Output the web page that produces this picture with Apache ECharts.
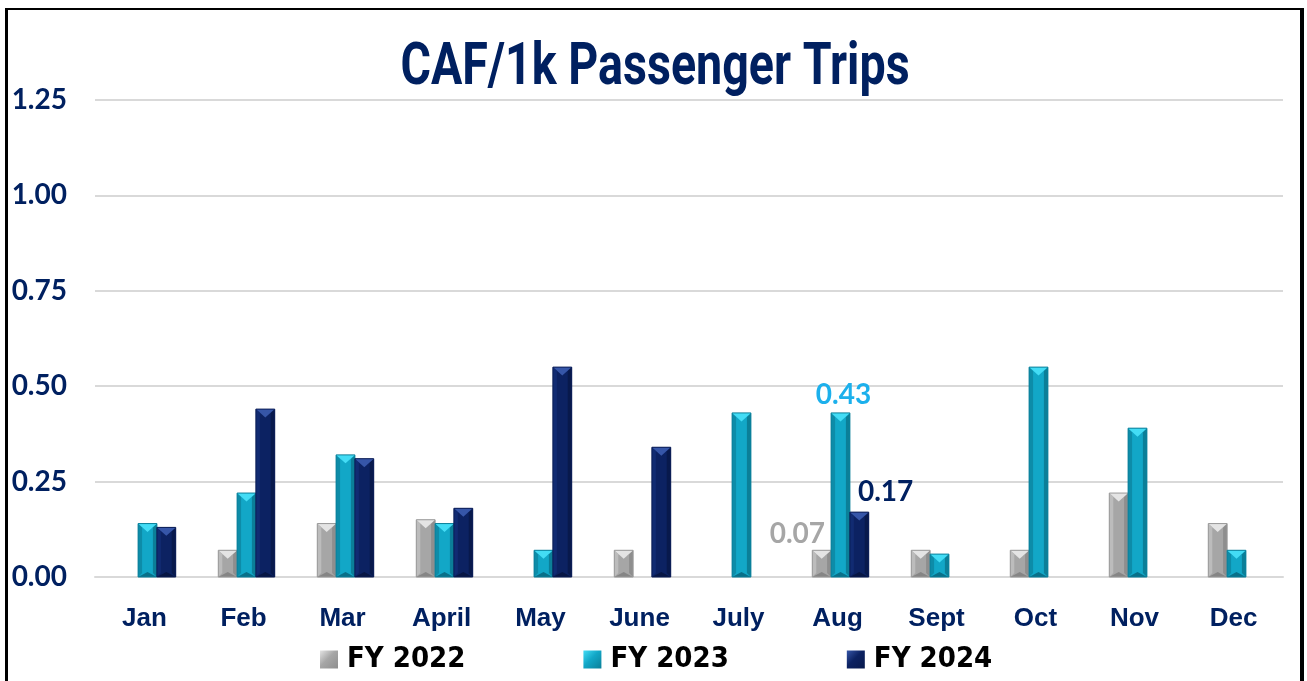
<!DOCTYPE html>
<html>
<head>
<meta charset="utf-8">
<script src="https://cdn.jsdelivr.net/npm/echarts@6/dist/echarts.min.js"></script>
<style>
  html, body { margin: 0; padding: 0; background: #fff; }
  #main { width: 1307px; height: 681px; }
  /* black frame round the chart area */
  #frame {
    position: absolute; left: 5px; top: 8px; width: 1292px; height: 700px;
    border-left: 3px solid #000; border-top: 2px solid #000; border-right: 4px solid #000;
    pointer-events: none;
  }
</style>
</head>
<body>
<div id="main"></div>
<div id="frame"></div>
<script>
const months = ['Jan', 'Feb', 'Mar', 'April', 'May', 'June', 'July', 'Aug', 'Sept', 'Oct', 'Nov', 'Dec'];
const fy2022 = [null, 0.07, 0.14, 0.15, null, 0.07, null, 0.07, 0.07, 0.07, 0.22, 0.14];
const fy2023 = [0.14, 0.22, 0.32, 0.14, 0.07, null, 0.43, 0.43, 0.06, 0.55, 0.39, 0.07];
const fy2024 = [0.13, 0.44, 0.31, 0.18, 0.55, 0.34, null, 0.17, null, null, null, null];
const seriesNames = ['FY 2022', 'FY 2023', 'FY 2024'];
const chartTitle = 'CAF/1k Passenger Trips';

// bevel colours per series
const palettes = [
  { body: '#a6a6a6', top: '#e4e4e4', left: '#bcbcbc', right: '#8e8e8e', bottom: '#858585', edge: '#999999', label: '#a6a6a6' },
  { body: '#12a7c7', top: '#43dcf5', left: '#0d8ca8', right: '#0b7f98', bottom: '#097089', edge: '#0b7f99', label: '#1cb0ec' },
  { body: '#0c2262', top: '#3656a8', left: '#112b72', right: '#08194c', bottom: '#071644', edge: '#0a1c55', label: '#002060' }
];
// which month gets a value label (Aug)
const labelMonth = 7;

function bevelBar(k) {
  const pal = palettes[k];
  return function (params, api) {
    const v = api.value(1);
    if (v == null || isNaN(v)) return null;
    const i = api.value(0);
    const band = api.size([1, 0])[0];
    const w = band * 0.19;
    const p0 = api.coord([i, 0]);
    const p1 = api.coord([i, v]);
    const x0 = p0[0] + (k - 1.5) * w + 3;
    const x1 = x0 + w;
    const yb = p0[1], yt = p1[1];
    const h = yb - yt;
    const b = Math.min(4, h / 3);
    const th = Math.min(w * 0.45, h / 2);
    const mid = (x0 + x1) / 2;
    const children = [
      { type: 'rect', shape: { x: x0, y: yt, width: w, height: h }, style: { fill: pal.body } },
      { type: 'polygon', shape: { points: [[x0, yt], [x0 + b, yt + b], [x0 + b, yb - b], [x0, yb]] }, style: { fill: pal.left } },
      { type: 'polygon', shape: { points: [[x1, yt], [x1 - b, yt + b], [x1 - b, yb - b], [x1, yb]] }, style: { fill: pal.right } },
      { type: 'polygon', shape: { points: [[x0, yb], [x1, yb], [mid, yb - th * 0.6]] }, style: { fill: pal.bottom } },
      { type: 'polygon', shape: { points: [[x0, yt], [x1, yt], [mid, yt + th]] }, style: { fill: pal.top } },
      { type: 'rect', shape: { x: x0, y: yt, width: w, height: h }, style: { fill: null, stroke: pal.edge, lineWidth: 1 } }
    ];
    if (i === labelMonth) {
      let pos;
      if (k === 0) pos = { x: x1 - 6, y: yt - 16, align: 'right' };
      else if (k === 1) pos = { x: mid + 3, y: yt - 18, align: 'center' };
      else pos = { x: x0 + 8, y: yt - 20, align: 'left' };
      children.push({
        type: 'text',
        style: {
          x: pos.x, y: pos.y, text: v.toFixed(2), align: pos.align, verticalAlign: 'middle',
          fill: pal.label, font: 'bold 28px Lato, "Open Sans", sans-serif'
        }
      });
    }
    return { type: 'group', children: children };
  };
}

const chart = echarts.init(document.getElementById('main'));
const data = [fy2022, fy2023, fy2024];

chart.setOption({
  animation: false,
  // condensed-looking title: a bold face squeezed horizontally
  graphic: [{
    type: 'text',
    x: 655,
    y: 69,
    scaleX: 0.79,
    originX: 0,
    style: {
      text: chartTitle, align: 'center', verticalAlign: 'middle',
      fill: '#002060', font: 'bold 59px Roboto, "Liberation Sans", sans-serif'
    }
  }],
  legend: {
    left: 315,
    top: 640,
    itemWidth: 18,
    itemHeight: 18,
    itemGap: 118,
    icon: 'rect',
    data: seriesNames,
    textStyle: { color: '#000', fontSize: 29, fontWeight: 'bold', fontFamily: '"DejaVu Sans Condensed", sans-serif', padding: [0, 0, 0, 4] }
  },
  grid: { left: 95, right: 24, top: 100, bottom: 104 },
  xAxis: {
    type: 'category',
    data: months,
    axisTick: { show: false },
    axisLine: { lineStyle: { color: '#d9d9d9', width: 2 } },
    axisLabel: { color: '#002060', fontSize: 26, fontWeight: 'bold', fontFamily: '"Liberation Sans", Arial, sans-serif', margin: 29 }
  },
  yAxis: {
    type: 'value',
    min: 0,
    max: 1.25,
    interval: 0.25,
    axisLine: { show: false },
    axisTick: { show: false },
    splitLine: { lineStyle: { color: '#d9d9d9', width: 2 } },
    axisLabel: {
      color: '#002060', fontSize: 28, fontWeight: 'bold', fontFamily: 'Lato, "Open Sans", sans-serif', margin: 28,
      formatter: v => v.toFixed(2)
    }
  },
  series: data.map((arr, k) => ({
    name: seriesNames[k],
    type: 'custom',
    renderItem: bevelBar(k),
    encode: { x: 0, y: 1 },
    itemStyle: {
      color: new echarts.graphic.LinearGradient(0, 0, 1, 1, [
        { offset: 0, color: palettes[k].top },
        { offset: 0.45, color: palettes[k].body },
        { offset: 1, color: palettes[k].right }
      ])
    },
    data: arr.map((v, i) => [i, v])
  }))
});
</script>
</body>
</html>
